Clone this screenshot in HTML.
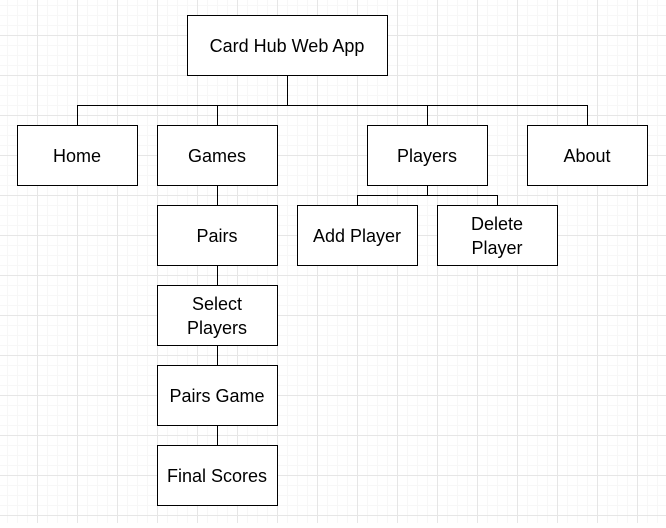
<!DOCTYPE html><html><head><style>body{margin:0}</style></head><body>
<svg width="666" height="523" xmlns="http://www.w3.org/2000/svg" font-family="Liberation Sans, sans-serif" font-size="18">
<defs>
<pattern id="m" x="-3" y="-5" width="10" height="10" patternUnits="userSpaceOnUse"><path d="M0.5 0V10M0 0.5H10" stroke="#f7f7f7" stroke-width="1" fill="none"/></pattern>
<pattern id="M" x="-3" y="-5" width="40" height="40" patternUnits="userSpaceOnUse"><path d="M0.5 0V40M0 0.5H40" stroke="#e6e6e6" stroke-width="1" fill="none"/></pattern>
</defs>
<rect width="666" height="523" fill="#fff"/>
<rect width="666" height="523" fill="url(#m)"/>
<rect width="666" height="523" fill="url(#M)"/>
<g stroke="#000" stroke-width="1" fill="none">
<path d="M287.5 75V105.5M77.5 125V105.5H587.5V125M217.5 105V125M427.5 105V125M427.5 185V195.5M357.5 205V195.5H497.5V205M217.5 185V445"/>
</g>
<g stroke="#000" stroke-width="1" fill="#fff">
<rect x="187.5" y="15.5" width="200" height="60"/>
<rect x="17.5" y="125.5" width="120" height="60"/>
<rect x="157.5" y="125.5" width="120" height="60"/>
<rect x="367.5" y="125.5" width="120" height="60"/>
<rect x="527.5" y="125.5" width="120" height="60"/>
<rect x="297.5" y="205.5" width="120" height="60"/>
<rect x="437.5" y="205.5" width="120" height="60"/>
<rect x="157.5" y="205.5" width="120" height="60"/>
<rect x="157.5" y="285.5" width="120" height="60"/>
<rect x="157.5" y="365.5" width="120" height="60"/>
<rect x="157.5" y="445.5" width="120" height="60"/>
</g>
<g text-anchor="middle" fill="#000">
<text x="287" y="52">Card Hub Web App</text>
<text x="77" y="162">Home</text>
<text x="217" y="162">Games</text>
<text x="427" y="162">Players</text>
<text x="587" y="162">About</text>
<text x="357" y="242">Add Player</text>
<text x="497" y="230">Delete</text><text x="497" y="254">Player</text>
<text x="217" y="242">Pairs</text>
<text x="217" y="310">Select</text><text x="217" y="334">Players</text>
<text x="217" y="402">Pairs Game</text>
<text x="217" y="482">Final Scores</text>
</g>
</svg></body></html>
